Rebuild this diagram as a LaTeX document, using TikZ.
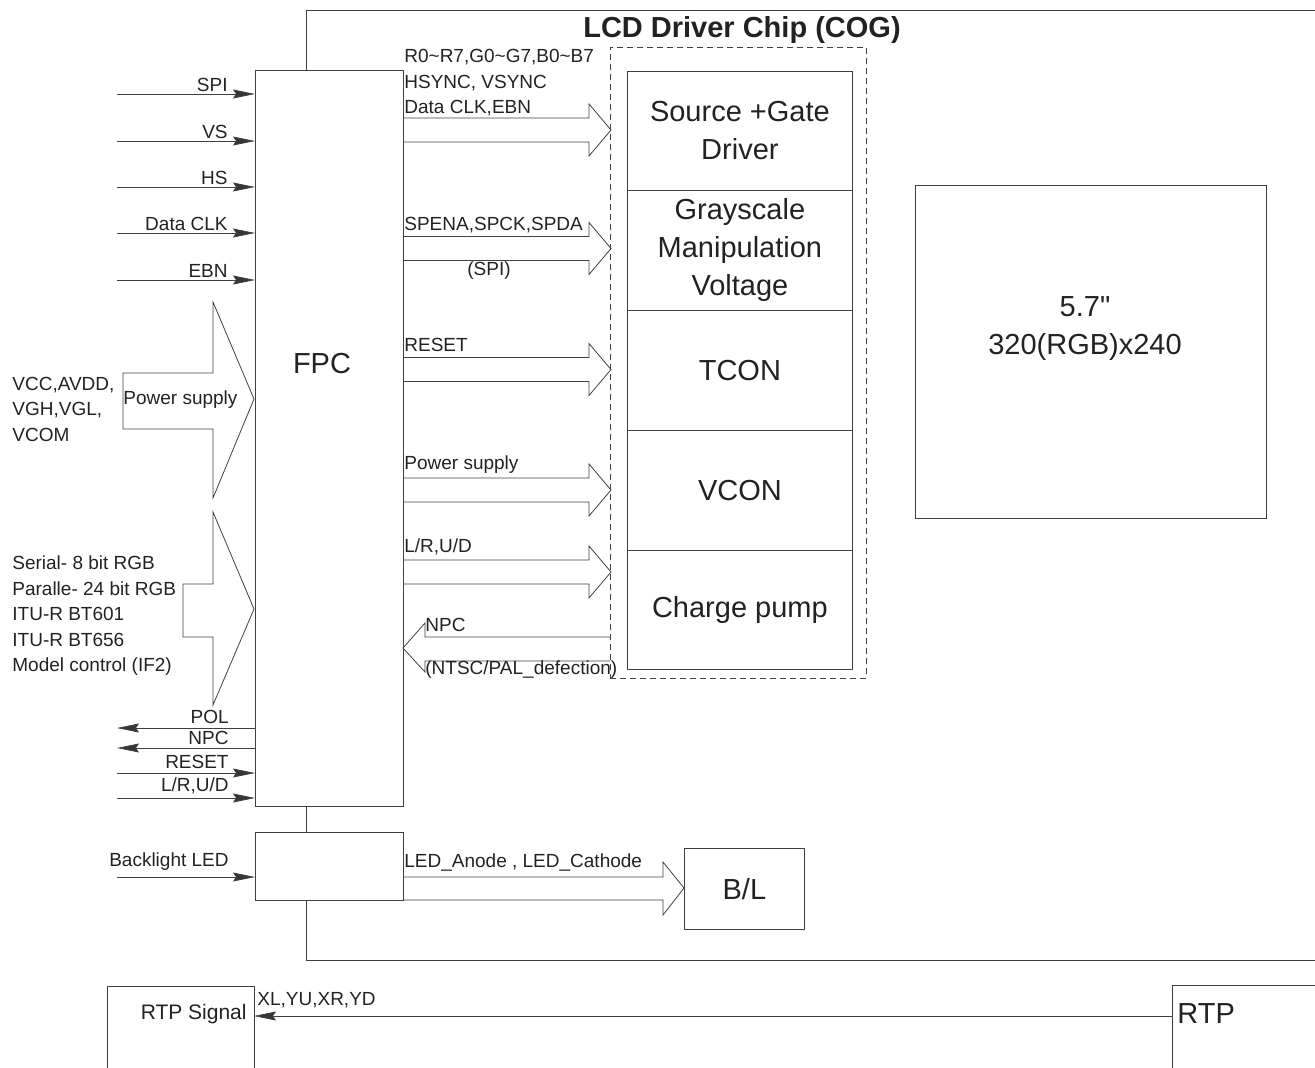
\documentclass[tikz,border=0pt]{standalone}
\usepackage{fontspec}
\setmainfont{Liberation Sans}
\usetikzlibrary{arrows.meta}
\definecolor{linec}{HTML}{404040}
\definecolor{txtc}{HTML}{222222}
\newcommand\smltxt{\fontsize{19}{25.5}\selectfont}
\newcommand\bigtxt{\fontsize{29}{38}\selectfont}
\newcommand\myblockarrow[1]{%
  \draw[blk] (403,{#1-12}) -- (589,{#1-12}) -- (589,{#1-26}) -- (611,#1)
    -- (589,{#1+26}) -- (589,{#1+12}) -- (403,{#1+12});}
\begin{document}
\begin{tikzpicture}[x=1pt,y=-1pt,line width=0.8pt,color=linec,
  every node/.style={text=txtc,inner sep=0pt,font=\smltxt},
  boxn/.style={draw=linec,fill=white,rectangle,anchor=north west},
  stk/.style={boxn,minimum width=225pt,align=center,font=\bigtxt},
  sig/.style={draw=linec,-{Stealth[length=22pt,width=9pt,inset=3pt,fill=linec!85!black]}},
  blk/.style={draw=linec,line join=miter},
  lbl/.style={anchor=west,align=left}]
\useasboundingbox (0,0) rectangle (1315,1068);

% outer chip outline
\draw (1315,10) -- (306,10) -- (306,960) -- (1315,960);
\node[font=\bigtxt\bfseries] (title) at (742,30) {LCD Driver Chip (COG)};

% FPC
\node[boxn,minimum width=148pt,minimum height=736pt] (fpc) at (255,70) {};
\node[font=\bigtxt] (fpct) at (322,364) {FPC};

% dashed COG region
\node[boxn,fill=none,dash pattern=on 6pt off 4pt,minimum width=256pt,minimum height=631pt] (cog) at (610,47) {};

% stack
\node[stk,minimum height=119pt] (sgd) at (627,71) {Source +Gate\\Driver};
\node[stk,minimum height=120pt] (gmv) at (627,190) {Grayscale\\Manipulation\\Voltage};
\node[stk,minimum height=120pt] (tcon) at (627,310) {TCON};
\node[stk,minimum height=120pt] (vcon) at (627,430) {VCON};
\node[stk,minimum height=119pt] (cp) at (627,550) {Charge pump};

% LCD panel
\node[boxn,minimum width=351pt,minimum height=333pt] (lcd) at (915,185) {};
\node[font=\bigtxt,align=center] (lcdt) at (1085,329) {5.7\textquotedbl\\320(RGB)x240};

% left inputs
\foreach \y/\t in {94/SPI,141/VS,187/HS,233/Data CLK,280/EBN}{
  \coordinate (in\y) at (117,\y);
  \draw[sig] (in\y) -- (in\y -| fpc.west);
  \node[anchor=east] at (228,{\y-9.5}) {\t};
}

% power supply big arrow
\draw[blk] (123,373) -- (213,373) -- (213,302) -- (254,399) -- (213,498) -- (213,429) -- (123,429) -- cycle;
\node[anchor=west] (pst) at (123,400) {Power supply};
\node[lbl] (pwr) at (12,409) {VCC,AVDD,\\VGH,VGL,\\VCOM};

% interface big arrow
\draw[blk] (183,584) -- (213,584) -- (213,512) -- (254,609) -- (213,705) -- (213,637) -- (183,637) -- cycle;
\node[lbl] (ifc) at (12,616) {Serial- 8 bit RGB\\Paralle- 24 bit RGB\\ITU-R BT601\\ITU-R BT656\\Model control (IF2)};

% bottom-left signals
\coordinate (pol) at (117,728);
\coordinate (npco) at (117,748);
\coordinate (rst) at (117,773);
\coordinate (lrud) at (117,798);
\draw[sig] (pol -| fpc.west) -- (pol);
\draw[sig] (npco -| fpc.west) -- (npco);
\draw[sig] (rst) -- (rst -| fpc.west);
\draw[sig] (lrud) -- (lrud -| fpc.west);
\node[anchor=east] at (229,717) {POL};
\node[anchor=east] at (229,738) {NPC};
\node[anchor=east] at (229,762) {RESET};
\node[anchor=east] at (229,786) {L/R,U/D};

% block arrows FPC -> COG
\myblockarrow{130}
\myblockarrow{248.5}
\myblockarrow{369.5}
\myblockarrow{490}
\myblockarrow{572}
\node[lbl] at (404,83) {R0\textasciitilde R7,G0\textasciitilde G7,B0\textasciitilde B7\\HSYNC, VSYNC\\Data CLK,EBN};
\node[lbl] at (404,225) {SPENA,SPCK,SPDA};
\node at (489,271) {(SPI)};
\node[lbl] at (404,345) {RESET};
\node[lbl] at (404,465) {Power supply};
\node[lbl] at (404,547) {L/R,U/D};

% NPC back arrow
\draw[blk] (610,637) -- (425,637) -- (425,623) -- (403,648) -- (425,672) -- (425,661) -- (610,661);
\node[lbl] at (425,625) {NPC};
\node[lbl] at (425,670) {(NTSC/PAL\_defection)};

% backlight
\node[boxn,minimum width=148pt,minimum height=68pt] (bld) at (255,832) {};
\coordinate (blin) at (117,877);
\draw[sig] (blin) -- (blin -| bld.west);
\node[anchor=east] at (229,862) {Backlight LED};
\node[boxn,minimum width=120pt,minimum height=81pt,font=\bigtxt] (bl) at (684,848) {B/L};
\draw[blk] (403,877) -- (663,877) -- (663,862) -- (684,888) -- (663,915) -- (663,900) -- (403,900);
\node[lbl] at (404,862) {LED\_Anode , LED\_Cathode};

% RTP
\draw (107,1068) -- (107,986) -- (254,986) -- (254,1068);
\node[anchor=east] (rtpst) at (247,1014) {\fontsize{21}{25}\selectfont RTP Signal};
\draw (1315,985) -- (1172,985) -- (1172,1068);
\node[anchor=west,font=\bigtxt] (rtpt) at (1177,1014) {RTP};
\coordinate (rtpE) at (1172,1016);
\coordinate (rtpsigE) at (254,1016);
\draw[sig] (rtpE) -- (rtpsigE);
\node[anchor=west] at (257,1000) {XL,YU,XR,YD};
\end{tikzpicture}
\end{document}
